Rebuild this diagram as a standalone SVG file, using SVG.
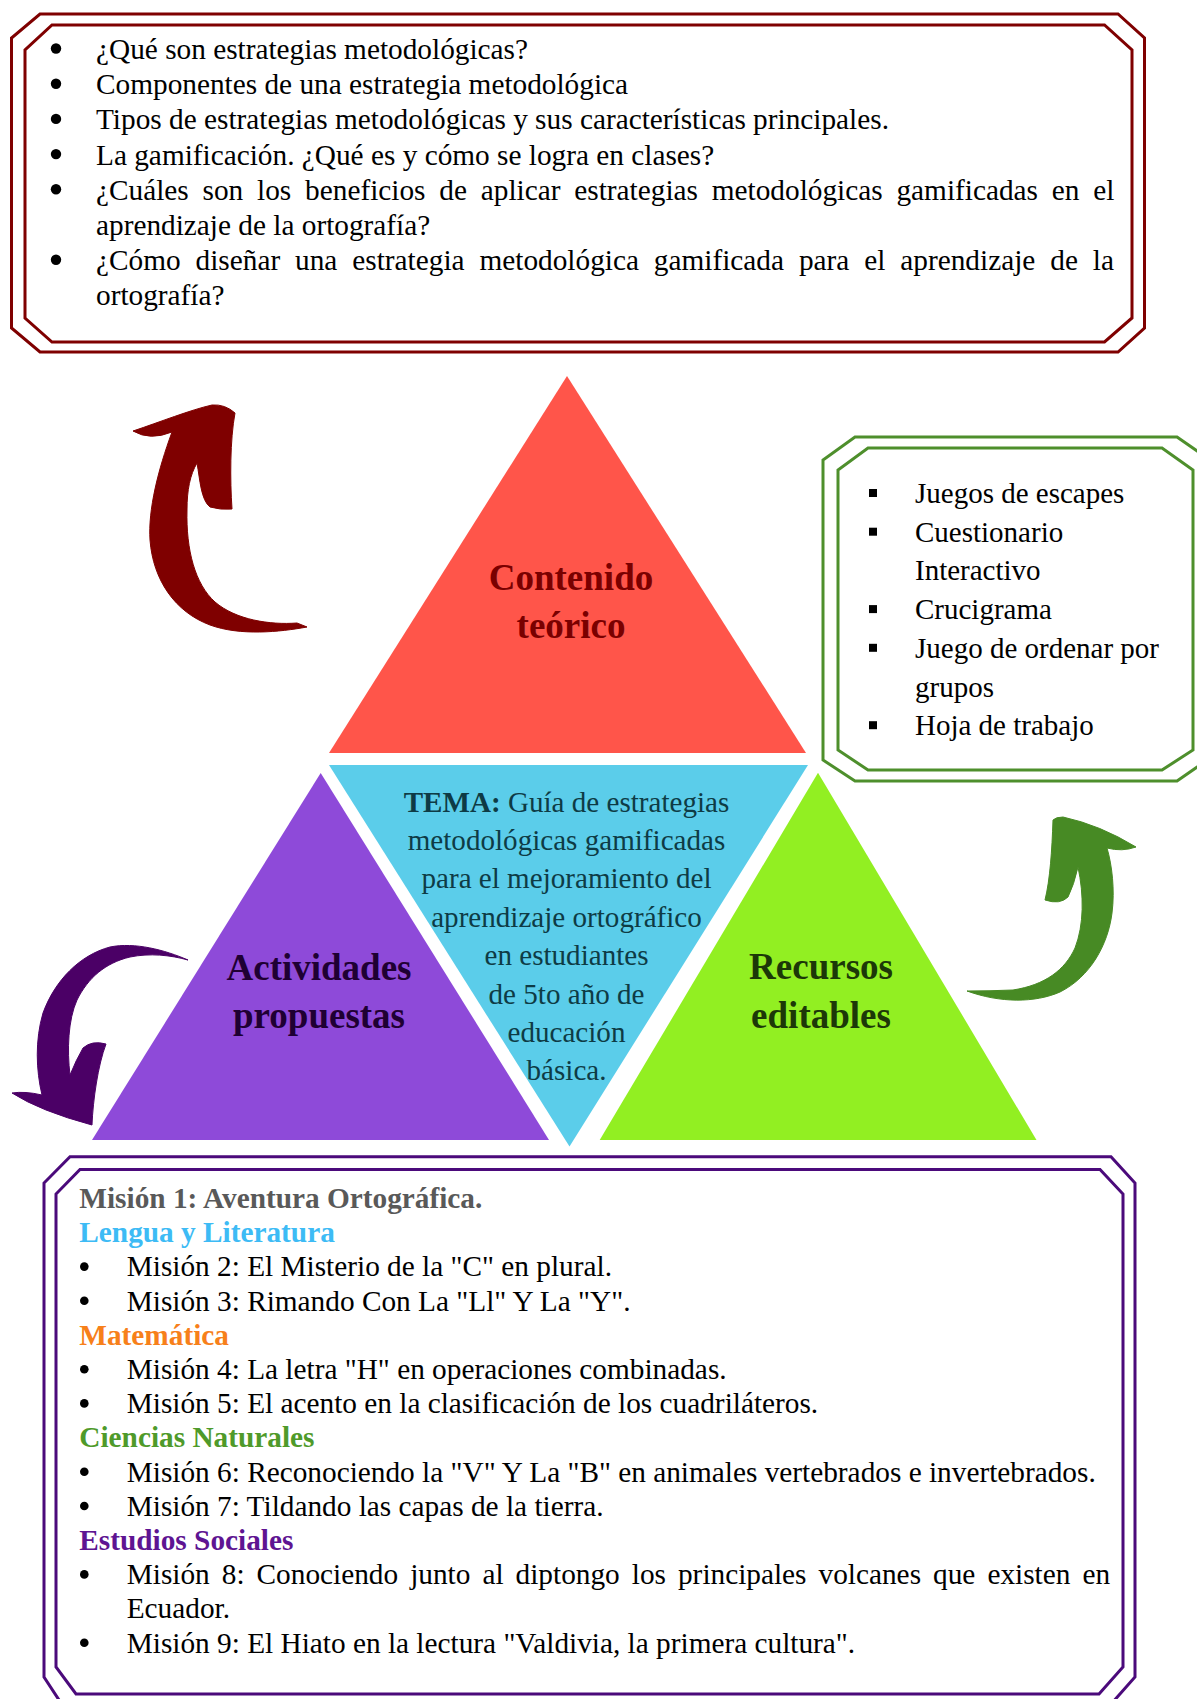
<svg xmlns="http://www.w3.org/2000/svg" width="1197" height="1699" viewBox="0 0 1197 1699">
<style>
text { font-family: "Liberation Serif", "Times New Roman", serif; font-size: 29.3px; fill: #000; }
.b { font-weight: bold; }
.big { font-size: 37px; font-weight: bold; text-anchor: middle; }
.tema { fill: #0E3B45; text-anchor: middle; font-size: 29.1px; }
.frameR { fill: none; stroke: #7F0000; stroke-width: 3; }
.frameG { fill: none; stroke: #4E8F2C; stroke-width: 3; }
.frameP { fill: none; stroke: #4B0A7B; stroke-width: 3; }
.arrow { stroke-width: 1; stroke-linejoin: round; }
</style>

<!-- Top box: questions -->
<g id="preguntas">
  <path class="frameR" d="M40,14 L1118,14 L1144.5,38 L1144.5,328 L1118,352 L40,352 L11.5,328 L11.5,38 Z"/>
  <path class="frameR" d="M52,25 L1104.5,25 L1132,50 L1132,318 L1104.5,342 L52,342 L25,318 L25,50 Z"/>
  <g fill="#000">
    <circle cx="56" cy="48.5" r="5.2"/>
    <circle cx="56" cy="83.7" r="5.2"/>
    <circle cx="56" cy="118.9" r="5.2"/>
    <circle cx="56" cy="154.1" r="5.2"/>
    <circle cx="56" cy="189.3" r="5.2"/>
    <circle cx="56" cy="259.7" r="5.2"/>
  </g>
  <text x="96" y="59">¿Qué son estrategias metodológicas?</text>
  <text x="96" y="94.2">Componentes de una estrategia metodológica</text>
  <text x="96" y="129.4">Tipos de estrategias metodológicas y sus características principales.</text>
  <text x="96" y="164.6">La gamificación. ¿Qué es y cómo se logra en clases?</text>
  <text x="96" y="199.8" word-spacing="6.5">¿Cuáles son los beneficios de aplicar estrategias metodológicas gamificadas en el</text>
  <text x="96" y="235">aprendizaje de la ortografía?</text>
  <text x="96" y="270.2" word-spacing="7.6">¿Cómo diseñar una estrategia metodológica gamificada para el aprendizaje de la</text>
  <text x="96" y="305.4">ortografía?</text>
</g>

<!-- Triangles -->
<g id="contenido-teorico">
  <polygon points="567,376 329,753 806,753" fill="#FF554A"/>
  <text class="big" x="571" y="590" style="fill:#7A0000">Contenido</text>
  <text class="big" x="571" y="638" style="fill:#7A0000">teórico</text>
</g>

<g id="tema">
  <polygon points="329,765 808,765 569.5,1146.5" fill="#5BCDEA"/>
  <text class="tema" x="566.5" y="811.5"><tspan class="b">TEMA:</tspan> Guía de estrategias</text>
  <text class="tema" x="566.5" y="849.9">metodológicas gamificadas</text>
  <text class="tema" x="566.5" y="888.3">para el mejoramiento del</text>
  <text class="tema" x="566.5" y="926.7">aprendizaje ortográfico</text>
  <text class="tema" x="566.5" y="965.1">en estudiantes</text>
  <text class="tema" x="566.5" y="1003.5">de 5to año de</text>
  <text class="tema" x="566.5" y="1041.9">educación</text>
  <text class="tema" x="566.5" y="1080.3">básica.</text>
</g>

<g id="actividades-propuestas">
  <polygon points="320.7,773 92,1140 549,1140" fill="#8E4AD9"/>
  <text class="big" x="319" y="980" style="fill:#1F0033">Actividades</text>
  <text class="big" x="319" y="1028" style="fill:#1F0033">propuestas</text>
</g>

<g id="recursos-editables">
  <polygon points="818,772.7 599.7,1140 1036.5,1140" fill="#92EF22"/>
  <text class="big" x="821" y="978.5" style="fill:#1C3808">Recursos</text>
  <text class="big" x="821" y="1028.3" style="fill:#1C3808">editables</text>
</g>

<!-- Green box: resources list -->
<g id="lista-recursos">
  <path class="frameG" d="M855,437 L1177,437 L1210,460 L1210,758 L1177,781 L855,781 L823,760 L823,460 Z"/>
  <path class="frameG" d="M868,448 L1162,448 L1193,470 L1193,750 L1162,770 L868,770 L838,750 L838,470 Z"/>
  <g fill="#000">
    <rect x="869" y="489" width="8" height="8"/>
    <rect x="869" y="527.7" width="8" height="8"/>
    <rect x="869" y="605.1" width="8" height="8"/>
    <rect x="869" y="643.8" width="8" height="8"/>
    <rect x="869" y="721.2" width="8" height="8"/>
  </g>
  <text x="915" y="503" style="font-size:29px">Juegos de escapes</text>
  <text x="915" y="541.7" style="font-size:29px">Cuestionario</text>
  <text x="915" y="580.4" style="font-size:29px">Interactivo</text>
  <text x="915" y="619.1" style="font-size:29px">Crucigrama</text>
  <text x="915" y="657.8" style="font-size:29px">Juego de ordenar por</text>
  <text x="915" y="696.5" style="font-size:29px">grupos</text>
  <text x="915" y="735.2" style="font-size:29px">Hoja de trabajo</text>
</g>

<!-- Bottom box: missions -->
<g id="misiones">
  <path class="frameP" d="M70,1156.7 L1111,1156.7 L1135,1183 L1135,1677 L1112,1703 L61,1703 L44,1677 L44,1183 Z"/>
  <path class="frameP" d="M80,1169.5 L1100,1169.5 L1123,1194 L1123,1667 L1099,1694 L76,1694 L56,1667 L56,1194 Z"/>
  <g fill="#000">
    <circle cx="84.3" cy="1266.6" r="4.3"/>
    <circle cx="84.3" cy="1300.8" r="4.3"/>
    <circle cx="84.3" cy="1369.2" r="4.3"/>
    <circle cx="84.3" cy="1403.4" r="4.3"/>
    <circle cx="84.3" cy="1471.8" r="4.3"/>
    <circle cx="84.3" cy="1506" r="4.3"/>
    <circle cx="84.3" cy="1574.4" r="4.3"/>
    <circle cx="84.3" cy="1642.8" r="4.3"/>
  </g>
  <text class="b" x="79.3" y="1208" style="fill:#595959">Misión 1: Aventura Ortográfica.</text>
  <text class="b" x="79.3" y="1242.2" style="fill:#3DBBF5">Lengua y Literatura</text>
  <text x="126.7" y="1276.4">Misión 2: El Misterio de la &quot;C&quot; en plural.</text>
  <text x="126.7" y="1310.6">Misión 3: Rimando Con La &quot;Ll&quot; Y La &quot;Y&quot;.</text>
  <text class="b" x="79.3" y="1344.8" style="fill:#F7801A">Matemática</text>
  <text x="126.7" y="1379">Misión 4: La letra &quot;H&quot; en operaciones combinadas.</text>
  <text x="126.7" y="1413.2">Misión 5: El acento en la clasificación de los cuadriláteros.</text>
  <text class="b" x="79.3" y="1447.4" style="fill:#4F9A2A">Ciencias Naturales</text>
  <text x="126.7" y="1481.6">Misión 6: Reconociendo la &quot;V&quot; Y La &quot;B&quot; en animales vertebrados e invertebrados.</text>
  <text x="126.7" y="1515.8">Misión 7: Tildando las capas de la tierra.</text>
  <text class="b" x="79.3" y="1550" style="fill:#5E1492">Estudios Sociales</text>
  <text x="126.7" y="1584.2" word-spacing="4.7">Misión 8: Conociendo junto al diptongo los principales volcanes que existen en</text>
  <text x="126.7" y="1618.4">Ecuador.</text>
  <text x="126.7" y="1652.6">Misión 9: El Hiato en la lectura &quot;Valdivia, la primera cultura&quot;.</text>
</g>

<!-- Connectors: curved arrows -->
<g id="conectores">
  <path class="arrow" fill="#7F0000" stroke="#7F0000" d="M133,431 Q150,441 172,432 C158,470 148,510 150,540 C153,580 175,612 210,625 C240,636 280,632 307,627 L297,623 C270,625 236,620 215,602 C195,584 186,550 187,510 C187,490 190,475 197,463 C200,480 201,500 210,507 Q220,510 232,509 C230,480 230,440 235,413 Q225,404 212,405 C190,410 160,422 133,431 Z"/>
  <path class="arrow" fill="#4B0066" stroke="#4B0066" d="M188,960 C165,950 135,942 110,947 C80,955 55,980 43,1013 C35,1040 36,1070 42,1095 Q25,1091 12,1093 Q40,1111 92,1125 C93,1100 98,1065 106,1044 Q92,1040 83,1048 Q76,1060 70,1075 C67,1050 68,1020 77,1000 C88,978 105,963 130,957 C150,953 170,955 188,960 Z"/>
  <path class="arrow" fill="#478A24" stroke="#478A24" d="M967,991 C1000,1003 1035,1003 1060,992 C1090,977 1108,945 1112,913 C1115,890 1112,865 1107,848 Q1122,852 1136,847 Q1100,825 1063,817 Q1056,817 1053,820 C1052,850 1050,880 1045,900 Q1060,905 1068,897 Q1074,885 1078,867 C1084,895 1084,925 1075,948 C1065,970 1045,985 1013,990 Q990,991 967,991 Z"/>
</g>
</svg>
